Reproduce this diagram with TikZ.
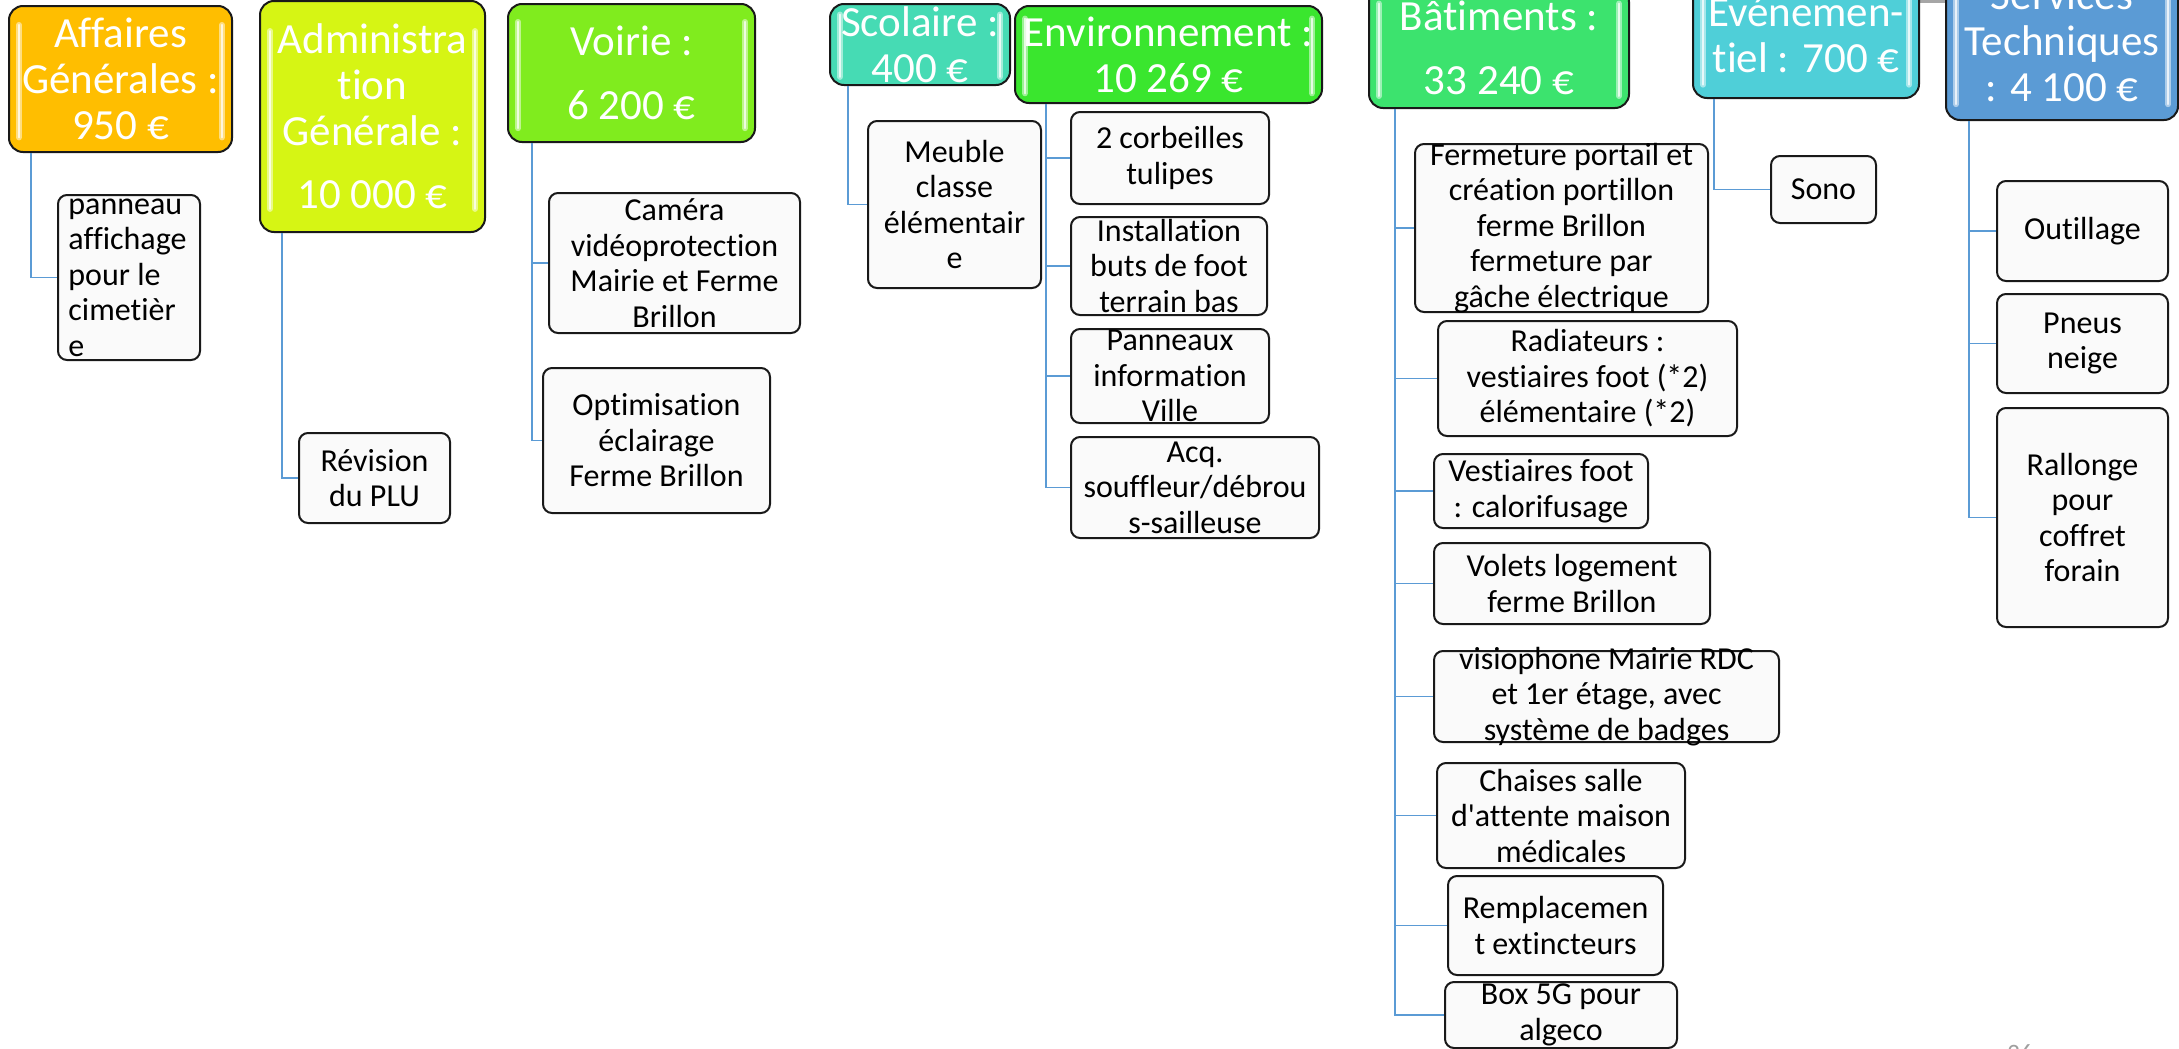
\documentclass[tikz,border=0pt]{standalone}
\usepackage{fontspec}
\setmainfont{Carlito}[Ligatures={TeXOff,CommonOff}]
\definecolor{connblue}{RGB}{91,155,213}
\definecolor{caff}{RGB}{255,190,0}
\definecolor{cadm}{RGB}{214,245,20}
\definecolor{cvoi}{RGB}{128,236,30}
\definecolor{csco}{RGB}{70,219,180}
\definecolor{cenv}{RGB}{58,230,46}
\definecolor{cbat}{RGB}{60,227,110}
\definecolor{ceve}{RGB}{79,207,216}
\definecolor{cser}{RGB}{91,155,213}
\tikzset{
 hdrbox/.style={draw=black!90, line width=1pt, rounded corners=7pt, inner sep=0pt},
 hdrtext/.style={text=white, font=\fontsize{21.5}{23}\selectfont, align=center, inner sep=0pt},
 childbox/.style={draw=black!90, line width=1pt, rounded corners=4.5pt, fill=gray!4, inner sep=0pt},
 childtext/.style={font=\fontsize{16}{17.75}\selectfont, align=center, inner sep=0pt},
 conn/.style={draw=connblue, line width=0.9pt},
 gloss/.style={draw=white, opacity=0.5, line width=3pt, line cap=round},
 glosscore/.style={draw=white, opacity=0.75, line width=1pt, line cap=round}
}
\newcommand\hdrnode[7]{%
 \node[hdrbox, fill=#6, minimum width={(#4-#2)*0.5pt}, minimum height={(#5-#3)*0.5pt}] (#1) at ({(#2+#4)/2},{(#3+#5)/2}) {};
 \draw[gloss] ({#2+10},{#3+0.13*(#5-#3)}) -- ({#2+10},{#5-0.1*(#5-#3)});
 \draw[gloss] ({#4-10},{#3+0.13*(#5-#3)}) -- ({#4-10},{#5-0.1*(#5-#3)});
 \draw[glosscore] ({#2+10},{#3+0.13*(#5-#3)}) -- ({#2+10},{#5-0.1*(#5-#3)});
 \draw[glosscore] ({#4-10},{#3+0.13*(#5-#3)}) -- ({#4-10},{#5-0.1*(#5-#3)});
 \node[hdrtext] (#1t) at (#1.center) {#7};}
\newcommand\cbox[6]{%
 \node[childbox, minimum width={(#4-#2)*0.5pt}, minimum height={(#5-#3)*0.5pt}] (#1) at ({(#2+#4)/2},{(#3+#5)/2}) {};
 \node[childtext] (#1t) at (#1.center) {#6};}
\begin{document}
\begin{tikzpicture}[x=0.5pt,y=-0.5pt]
\useasboundingbox (0,0) rectangle (2179,1049);
\clip (0,0) rectangle (2179,1049);
\fill[white] (0,0) rectangle (2179,1049);
\fill[gray!70] (1738,0) rectangle (1993,3);

% headers
\hdrnode{aff}{9}{6}{232}{152}{caff}{Affaires\\Générales :\\950 €}
\hdrnode{adm}{260}{1}{485}{232}{cadm}{Administra\\tion\\Générale :\\[8.5pt]10 000 €}
\hdrnode{voi}{508}{4}{755}{142}{cvoi}{Voirie :\\[9pt]6 200 €}
\hdrnode{sco}{830}{4}{1010}{85}{csco}{Scolaire :\\400 €}
\hdrnode{env}{1015}{6}{1322}{103}{cenv}{Environnement :\\10 269 €}
\hdrnode{bat}{1369}{-12}{1629}{108}{cbat}{Bâtiments :\\[9pt]33 240 €}
\hdrnode{eve}{1693}{-35}{1919}{98}{ceve}{Événemen-\\tiel : 700 €}
\hdrnode{ser}{1946}{-38}{2178}{120}{cser}{Services\\Techniques\\: 4 100 €}

% children
\node[childbox, minimum width=71pt, minimum height=82.5pt] (a1) at (129,277.5) {};
\node[childtext, align=left, anchor=west] (a1t) at ([xshift=5.5pt]a1.west) {panneau\\affichage\\pour le\\cimetièr\\e};
\cbox{d1}{299}{433}{450}{523}{Révision\\du PLU}
\cbox{v1}{549}{193}{800}{333}{Caméra\\vidéoprotection\\Mairie et Ferme\\Brillon}
\cbox{v2}{543}{368}{770}{513}{Optimisation\\éclairage\\Ferme Brillon}
\cbox{s1}{868}{121}{1041}{288}{Meuble\\classe\\élémentair\\e}
\cbox{e1}{1071}{112}{1269}{204}{2 corbeilles\\tulipes}
\cbox{e2}{1071}{217}{1267}{315}{Installation\\buts de foot\\terrain bas}
\cbox{e3}{1071}{329}{1269}{423}{Panneaux\\information\\Ville}
\cbox{e4}{1071}{437}{1319}{538}{Acq.\\souffleur/débrou\\s-sailleuse}
\cbox{b1}{1415}{144}{1708}{312}{Fermeture portail et\\création portillon\\ferme Brillon\\fermeture par\\gâche électrique}
\cbox{b2}{1438}{321}{1737}{436}{Radiateurs :\\vestiaires foot (*2)\\élémentaire (*2)}
\cbox{b3}{1434}{454}{1648}{528}{Vestiaires foot\\: calorifusage}
\cbox{b4}{1434}{543}{1710}{624}{Volets logement\\ferme Brillon}
\cbox{b5}{1434}{651}{1779}{742}{visiophone Mairie RDC\\et 1er étage, avec\\système de badges}
\cbox{b6}{1437}{763}{1685}{868}{Chaises salle\\d'attente maison\\médicales}
\cbox{b7}{1448}{876}{1663}{975}{Remplacemen\\t extincteurs}
\cbox{b8}{1445}{982}{1677}{1048}{Box 5G pour\\algeco}
\cbox{n1}{1771}{156}{1876}{223}{Sono}
\cbox{t1}{1997}{181}{2168}{281}{Outillage}
\cbox{t2}{1997}{294}{2168}{393}{Pneus\\neige}
\cbox{t3}{1997}{408}{2168}{627}{Rallonge\\pour\\coffret\\forain}

% connectors
\draw[conn] ([xshift=11.5pt]aff.south west) |- (a1.west);
\draw[conn] ([xshift=11.5pt]adm.south west) |- (d1.west);
\foreach \c in {v1,v2} \draw[conn] ([xshift=12.5pt]voi.south west) |- (\c.west);
\draw[conn] ([xshift=9.5pt]sco.south west) |- (s1.west);
\foreach \c in {e1,e2,e3,e4} \draw[conn] ([xshift=16pt]env.south west) |- (\c.west);
\foreach \c in {b1,b2,b3,b4,b5,b6,b7,b8} \draw[conn] ([xshift=13.5pt]bat.south west) |- (\c.west);
\draw[conn] ([xshift=11pt]eve.south west) |- (n1.west);
\foreach \c in {t1,t2,t3} \draw[conn] ([xshift=12pt]ser.south west) |- (\c.west);

% page number
\node[text=gray!75, font=\fontsize{12.5}{15}\selectfont, inner sep=0pt, anchor=base west] (pg) at (2007,1061) {26};
\end{tikzpicture}
\end{document}
